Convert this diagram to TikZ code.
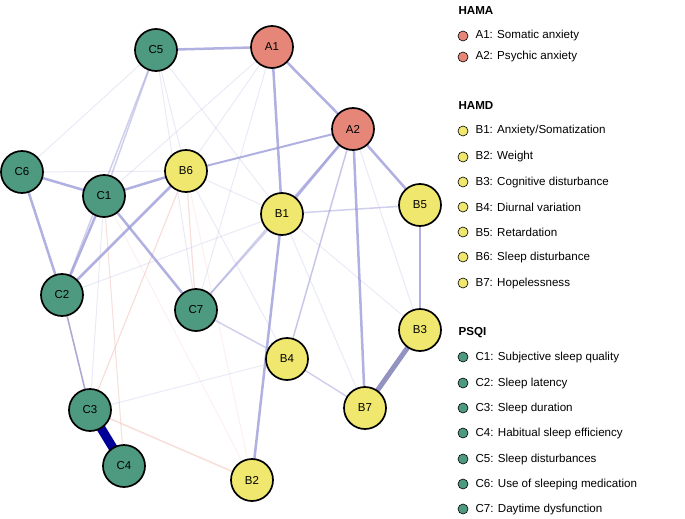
\documentclass[tikz,border=0pt]{standalone}
\usepackage{fontspec}
\setmainfont{Liberation Sans}
\begin{document}
\begin{tikzpicture}[x=1pt,y=-1pt,
 nd/.style={circle,draw=black,line width=1.7pt,minimum size=42pt,inner sep=0pt,font=\fontsize{11.5}{13}\selectfont},
 ha/.style={nd,fill=hred}, hd/.style={nd,fill=hyel}, ps/.style={nd,fill=hgrn},
 pe/.style={draw=hblue,line width=#1},
 ne/.style={draw=hred!60,line width=#1},
 lg/.style={circle,draw=black,line width=0.6pt,minimum size=10pt,inner sep=0pt},
 lt/.style={anchor=west,font=\fontsize{11.6}{13}\selectfont},
 tt/.style={anchor=west,font=\bfseries\fontsize{11.6}{13}\selectfont}]
\definecolor{hred}{RGB}{229,134,120}
\definecolor{hyel}{RGB}{240,231,110}
\definecolor{hgrn}{RGB}{78,154,128}
\definecolor{hblue}{RGB}{150,150,215}
\useasboundingbox (0,0) rectangle (685,519);
\coordinate (pA1) at (272,47); \coordinate (pA2) at (353,129);
\coordinate (pC5) at (156,50); \coordinate (pC6) at (22,172);
\coordinate (pC1) at (104,196); \coordinate (pB6) at (186,171);
\coordinate (pB1) at (282,214); \coordinate (pB5) at (420,205);
\coordinate (pC2) at (62,295); \coordinate (pC7) at (196,310);
\coordinate (pB4) at (287,359); \coordinate (pB3) at (420,330);
\coordinate (pB7) at (365,408); \coordinate (pC3) at (90,410);
\coordinate (pC4) at (124,466); \coordinate (pB2) at (252,480);
% faint edges
\begin{scope}[opacity=0.2]
\draw[pe=1pt] (pC5)--(pB6); \draw[pe=1pt] (pC5)--(pB1); \draw[pe=1pt] (pC5)--(pC7);
\draw[pe=1pt] (pA1)--(pC7); \draw[pe=1pt] (pA1)--(pB6); \draw[pe=1pt] (pA1)--(pC1);
\draw[pe=1pt] (pC6)--(pB6); \draw[pe=1pt] (pB6)--(pB1); \draw[pe=1pt] (pB6)--(pB4);
\draw[pe=1pt] (pA2)--(pB3); \draw[pe=1pt] (pA2)--(pB4); \draw[pe=1pt] (pB1)--(pB7);
\draw[pe=1pt] (pC1)--(pC3); \draw[pe=1pt] (pC2)--(pB1); \draw[pe=1pt] (pC3)--(pB4);
\draw[pe=1pt] (pB1)--(pB3); \draw[pe=1pt] (pC6)--(pC5);
\draw[ne=1pt] (pC1)--(pB2); \draw[ne=1pt] (pB6)--(pB2);
\end{scope}
\begin{scope}[opacity=0.45]
\draw[pe=1.5pt] (pC5)--(pC1); \draw[pe=1.5pt] (pC5)--(pC2);
\draw[pe=1.5pt] (pB1)--(pC7); \draw[pe=1.5pt] (pB1)--(pB5);
\draw[pe=1.5pt] (pC7)--(pB4); \draw[pe=1.5pt] (pB4)--(pB7);
\draw[pe=1.5pt] (pB4)--(pA2); \draw[pe=1.5pt] (pC7)--(pA2);
\draw[ne=1.5pt] (pC2)--(pC3); \draw[ne=1.2pt] (pB6)--(pC3);
\draw[ne=1.2pt] (pB6)--(pC7); \draw[ne=1.5pt] (pC3)--(pB2);
\draw[ne=1pt] (pC1)--(pC4);
\end{scope}
\begin{scope}[opacity=0.75]
\draw[pe=2.5pt] (pA1)--(pA2); \draw[pe=2.5pt] (pA1)--(pC5);
\draw[pe=2.5pt] (pA1)--(pB1); \draw[pe=2.5pt] (pA2)--(pB1);
\draw[pe=2.5pt] (pA2)--(pB5); \draw[pe=2.5pt] (pA2)--(pB7);
\draw[pe=2.5pt] (pB5)--(pB3); \draw[pe=2.5pt] (pC6)--(pC1);
\draw[pe=2.5pt] (pC6)--(pC2); \draw[pe=2.5pt] (pC1)--(pC2);
\draw[pe=2.5pt] (pC1)--(pC7); \draw[pe=2.5pt] (pC1)--(pB6);
\draw[pe=2.5pt] (pC2)--(pB6);
\draw[pe=2.5pt] (pB1)--(pB2); \draw[pe=2pt] (pA2)--(pB6);
\draw[pe=1.5pt] (pC2)--(pC3);
\end{scope}
\draw[hblue!85!black,line width=5pt,opacity=0.85] (pB3)--(pB7);
\draw[blue!60!black,line width=9pt] (pC3)--(pC4);
% nodes
\node[ha] (A1) at (pA1) {A1}; \node[ha] (A2) at (pA2) {A2};
\node[ps] (C5) at (pC5) {C5}; \node[ps] (C6) at (pC6) {C6};
\node[ps] (C1) at (pC1) {C1}; \node[hd] (B6) at (pB6) {B6};
\node[hd] (B1) at (pB1) {B1}; \node[hd] (B5) at (pB5) {B5};
\node[ps] (C2) at (pC2) {C2}; \node[ps] (C7) at (pC7) {C7};
\node[hd] (B4) at (pB4) {B4}; \node[hd] (B3) at (pB3) {B3};
\node[hd] (B7) at (pB7) {B7}; \node[ps] (C3) at (pC3) {C3};
\node[ps] (C4) at (pC4) {C4}; \node[hd] (B2) at (pB2) {B2};
% legend
\node[tt] (tA) at (455,11) {HAMA};
\node[lg,fill=hred] (la1) at (463,36) {}; \node[lt] (ta1) at (472,36) {A1: Somatic anxiety};
\node[lg,fill=hred] (la2) at (463,57) {}; \node[lt] (ta2) at (472,57) {A2: Psychic anxiety};
\node[tt] (tB) at (455,106) {HAMD};
\foreach \i/\y/\t in {1/131/Anxiety\slash Somatization,2/157/Weight,3/182/Cognitive disturbance,4/207/Diurnal variation,5/232/Retardation,6/257/Sleep disturbance,7/283/Hopelessness}{
 \node[lg,fill=hyel] (lb\i) at (463,\y) {}; \node[lt] (tb\i) at (472,\y) {B\i: \t};}
\node[tt] (tC) at (455,333) {PSQI};
\foreach \i/\y/\t in {1/357/Subjective sleep quality,2/383/Sleep latency,3/408/Sleep duration,4/433/Habitual sleep efficiency,5/459/Sleep disturbances,6/484/Use of sleeping medication,7/509/Daytime dysfunction}{
 \node[lg,fill=hgrn] (lc\i) at (463,\y) {}; \node[lt] (tc\i) at (472,\y) {C\i: \t};}
\end{tikzpicture}
\end{document}
